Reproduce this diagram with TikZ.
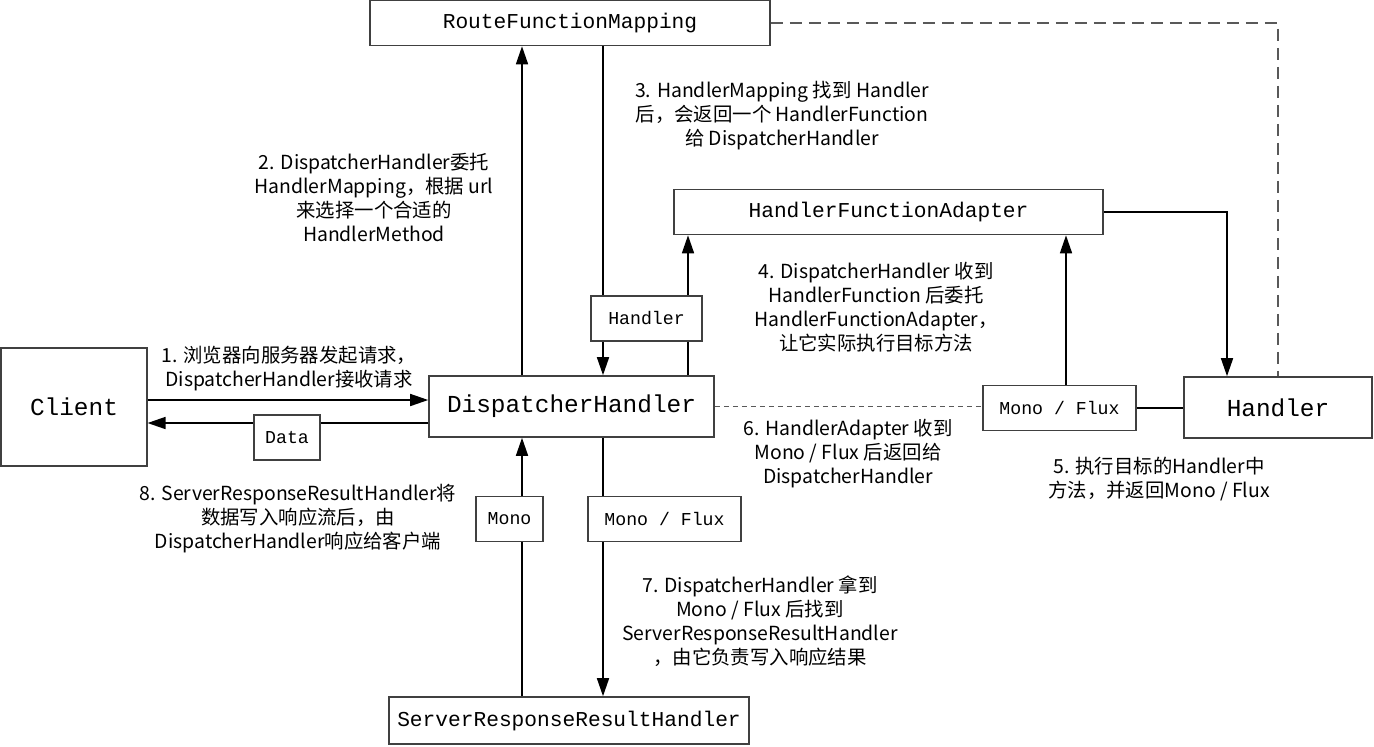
\documentclass[tikz,border=0pt]{standalone}
\usepackage{fontspec}
\setmonofont{Liberation Mono}
\newfontfamily\cjk{Noto Sans CJK SC}
\usetikzlibrary{arrows.meta}
\tikzset{
  box/.style={draw=black!75, line width=0.8pt, fill=white, inner sep=0pt,
    font=\ttfamily\fontsize{10.6pt}{12pt}\selectfont},
  big box/.style={box, font=\ttfamily\fontsize{12.2pt}{14pt}\selectfont},
  tag/.style={box, minimum height=22.5pt, font=\ttfamily\fontsize{9.1pt}{11pt}\selectfont},
  note/.style={align=center, inner sep=0pt, font=\cjk\fontsize{9.7pt}{12pt}\selectfont},
  link/.style={line width=0.8pt},
  flow/.style={link, -{Triangle[length=9pt,width=6pt]}},
  far link/.style={line width=0.8pt, draw=black!65, dash pattern=on 6pt off 3.5pt},
  near link/.style={line width=0.6pt, draw=black!65, dash pattern=on 2.5pt off 2pt}
}
\begin{document}
\begin{tikzpicture}[x=0.5pt, y=-0.5pt]
  \useasboundingbox (0,0) rectangle (1374,746);
  % boxes
  \node[box, minimum width=200pt, minimum height=22.5pt] (route) at (570,23) {RouteFunctionMapping};
  \node[big box, minimum width=72.75pt, minimum height=59pt] (client) at (74,407) {Client};
  \node[big box, minimum width=142.5pt, minimum height=30.5pt] (disp) at (571.5,406.5) {DispatcherHandler};
  \node[box, minimum width=214.5pt, minimum height=22.5pt] (adapter) at (888.5,212) {HandlerFunctionAdapter};
  \node[big box, minimum width=94pt, minimum height=30.5pt] (handler) at (1278,407.5) {Handler};
  \node[tag, minimum width=76.5pt] (mfr) at (1059.5,408) {Mono / Flux};
  \node[box, minimum width=180pt, minimum height=23.5pt] (result) at (569,720.5) {ServerResponseResultHandler};

  % columns and rows of the connectors
  \coordinate (colA) at (522,0);
  \coordinate (colB) at (603,0);
  \coordinate (colC) at (688,0);
  \coordinate (colD) at (1066,0);
  \coordinate (colE) at (1227,0);
  \coordinate (rowA) at (0,400);
  \coordinate (rowB) at (0,423);

  % connectors
  \draw[flow] (rowA -| client.east) -- (rowA -| disp.west);
  \draw[flow] (rowB -| disp.west) -- (rowB -| client.east);
  \draw[flow] (colA |- disp.north) -- (colA |- route.south);
  \draw[flow] (colB |- route.south) -- (colB |- disp.north);
  \draw[flow] (colC |- disp.north) -- (colC |- adapter.south);
  \draw[flow] (adapter.east) -| (colE |- handler.north);
  \draw[flow] (colD |- mfr.north) -- (colD |- adapter.south);
  \draw[link] (mfr.east) -- (mfr.east -| handler.west);
  \draw[near link] (disp.east) -- (disp.east -| mfr.west);
  \draw[far link] (route.east) -| (handler.north);
  \draw[flow] (colA |- result.north) -- (colA |- disp.south);
  \draw[flow] (colB |- disp.south) -- (colB |- result.north);

  % tags on the connectors
  \node[tag, minimum width=55.5pt] (hd) at (646.5,318.5) {Handler};
  \node[tag, minimum width=33pt] (data) at (287,437.5) {Data};
  \node[tag, minimum width=33.5pt] (mono) at (509.5,519) {Mono};
  \node[tag, minimum width=76.5pt] (mfb) at (664.5,519) {Mono / Flux};

  % steps
  \node[note] (n1) at (289,368.5) {1. 浏览器向服务器发起请求，\\DispatcherHandler接收请求};
  \node[note] (n2) at (374,197.5) {2. DispatcherHandler委托\\HandlerMapping，根据 url\\来选择一个合适的\\HandlerMethod};
  \node[note] (n3) at (782,116) {3. HandlerMapping 找到 Handler\\后，会返回一个 HandlerFunction\\给 DispatcherHandler};
  \node[note] (n4) at (876,307) {4. DispatcherHandler 收到\\HandlerFunction 后委托\\HandlerFunctionAdapter，\\让它实际执行目标方法};
  \node[note] (n5) at (1159,479) {5. 执行目标的Handler中\\方法，并返回Mono / Flux};
  \node[note] (n6) at (848,453.5) {6. HandlerAdapter 收到\\Mono / Flux 后返回给\\DispatcherHandler};
  \node[note] (n7) at (760,621) {7. DispatcherHandler 拿到\\Mono / Flux 后找到\\ServerResponseResultHandler\\，由它负责写入响应结果};
  \node[note] (n8) at (298,518.5) {8. ServerResponseResultHandler将\\数据写入响应流后，由\\DispatcherHandler响应给客户端};
\end{tikzpicture}
\end{document}
